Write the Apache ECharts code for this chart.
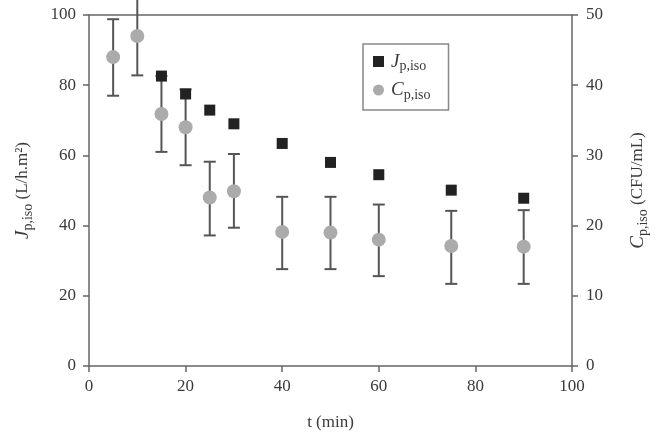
<!DOCTYPE html>
<html>
<head>
<meta charset="utf-8">
<script src="https://cdn.jsdelivr.net/npm/echarts@6/dist/echarts.min.js"></script>
<style>
  html, body { margin: 0; padding: 0; background: #fff; }
  #chart { width: 658px; height: 434px; }
</style>
</head>
<body>
<div id="chart"></div>
<script>
// time points (min)
const timeJ = [15, 20, 25, 30, 40, 50, 60, 75, 90];
const fluxJ = [82.6, 77.5, 72.9, 69.0, 63.4, 58.0, 54.5, 50.1, 47.8];

const timeC = [5, 10, 15, 20, 25, 30, 40, 50, 60, 75, 90];
const concC = [44.0, 47.0, 35.9, 34.0, 24.0, 24.9, 19.1, 19.0, 18.0, 17.1, 17.0];
const concLow = [38.5, 41.4, 30.5, 28.6, 18.6, 19.7, 13.8, 13.8, 12.8, 11.7, 11.7];
const concHigh = [49.4, 52.6, 41.3, 39.4, 29.1, 30.2, 24.1, 24.1, 23.0, 22.1, 22.2];

const xTicks = [0, 20, 40, 60, 80, 100];

const FONT = '"Liberation Serif", "DejaVu Serif", serif';
const AXIS = '#666';
const TXT = '#3a3a3a';

const chart = echarts.init(document.getElementById('chart'));

// rich styles for italic symbol + subscript
const rich = {
  i: { fontFamily: FONT, fontStyle: 'italic', fontSize: 19, color: TXT, verticalAlign: 'middle', lineHeight: 24 },
  s: { fontFamily: FONT, fontSize: 14, color: TXT, verticalAlign: 'bottom', lineHeight: 18 },
  n: { fontFamily: FONT, fontSize: 17, color: TXT, verticalAlign: 'middle', lineHeight: 24 }
};

const option = {
  animation: false,
  backgroundColor: '#fff',
  grid: { left: 89, right: 86, top: 15, bottom: 68, outerBoundsMode: 'none', containLabel: false },
  legend: {
    orient: 'vertical',
    left: 363,
    top: 44,
    padding: [8, 18, 8, 10],
    itemGap: 7,
    itemWidth: 11,
    itemHeight: 11,
    borderColor: '#888',
    borderWidth: 1.5,
    data: [
      { name: 'J', icon: 'rect' },
      { name: 'C', icon: 'circle' }
    ],
    formatter: function (name) {
      return '{i|' + name + '}{s|p,iso}';
    },
    textStyle: { rich: rich, padding: [0, 0, 0, 2] }
  },
  xAxis: [
    {
      type: 'value',
      min: 0,
      max: 100,
      interval: 20,
      name: 't (min)',
      nameLocation: 'middle',
      nameGap: 48,
      nameTextStyle: { fontFamily: FONT, fontSize: 17, color: TXT },
      axisLine: { show: true, onZero: false, lineStyle: { color: AXIS, width: 1.5 } },
      axisTick: { show: true, length: 6, lineStyle: { color: AXIS, width: 1.5 } },
      axisLabel: {
        margin: 12,
        fontFamily: FONT,
        fontSize: 17,
        color: TXT,
        formatter: function (v) { return xTicks.indexOf(v) >= 0 ? String(v) : ''; }
      },
      splitLine: { show: false }
    },
    {
      type: 'value',
      position: 'top',
      min: 0,
      max: 100,
      axisLine: { show: true, onZero: false, lineStyle: { color: AXIS, width: 1.5 } },
      axisTick: { show: false },
      axisLabel: { show: false },
      splitLine: { show: false }
    }
  ],
  yAxis: [
    {
      type: 'value',
      min: 0,
      max: 100,
      interval: 20,
      name: '{i|J}{s|p,iso}{n| (L/h.m²)}',
      nameLocation: 'middle',
      nameRotate: 90,
      nameGap: 54,
      nameTextStyle: { rich: rich },
      axisLine: { show: true, onZero: false, lineStyle: { color: AXIS, width: 1.5 } },
      axisTick: { show: true, length: 6, lineStyle: { color: AXIS, width: 1.5 } },
      axisLabel: { margin: 13, fontFamily: FONT, fontSize: 17, color: TXT },
      splitLine: { show: false }
    },
    {
      type: 'value',
      position: 'right',
      min: 0,
      max: 50,
      interval: 10,
      name: '{i|C}{s|p,iso}{n| (CFU/mL)}',
      nameLocation: 'middle',
      nameRotate: 90,
      nameGap: 54,
      nameTextStyle: { rich: rich },
      axisLine: { show: true, onZero: false, lineStyle: { color: AXIS, width: 1.5 } },
      axisTick: { show: true, length: 6, lineStyle: { color: AXIS, width: 1.5 } },
      axisLabel: { margin: 14, fontFamily: FONT, fontSize: 17, color: TXT },
      splitLine: { show: false }
    }
  ],
  series: [
    {
      name: 'err',
      type: 'custom',
      xAxisIndex: 0,
      yAxisIndex: 1,
      clip: false,
      silent: true,
      z: 1,
      data: timeC.map(function (t, i) { return [t, concLow[i], concHigh[i]]; }),
      renderItem: function (params, api) {
        const x = api.value(0);
        const lo = api.coord([x, api.value(1)]);
        const hi = api.coord([x, api.value(2)]);
        const cap = 6;
        const style = { stroke: '#555', lineWidth: 2 };
        return {
          type: 'group',
          children: [
            { type: 'line', shape: { x1: lo[0], y1: lo[1], x2: hi[0], y2: hi[1] }, style: style },
            { type: 'line', shape: { x1: lo[0] - cap, y1: lo[1], x2: lo[0] + cap, y2: lo[1] }, style: style },
            { type: 'line', shape: { x1: hi[0] - cap, y1: hi[1], x2: hi[0] + cap, y2: hi[1] }, style: style }
          ]
        };
      }
    },
    {
      name: 'C',
      type: 'scatter',
      xAxisIndex: 0,
      yAxisIndex: 1,
      symbol: 'circle',
      symbolSize: 14,
      z: 3,
      itemStyle: { color: '#ababab', opacity: 1 },
      data: timeC.map(function (t, i) { return [t, concC[i]]; })
    },
    {
      name: 'J',
      type: 'scatter',
      xAxisIndex: 0,
      yAxisIndex: 0,
      symbol: 'rect',
      symbolSize: 11,
      z: 4,
      itemStyle: { color: '#222', opacity: 1 },
      data: timeJ.map(function (t, i) { return [t, fluxJ[i]]; })
    }
  ]
};

chart.setOption(option);
</script>
</body>
</html>
